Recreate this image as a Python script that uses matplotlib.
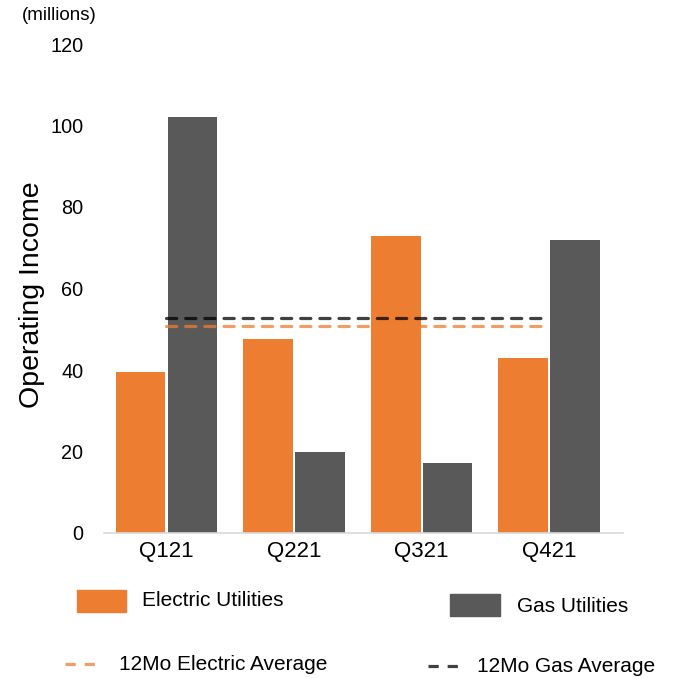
import numpy as np
import matplotlib.pyplot as plt
from matplotlib.patches import Rectangle
from matplotlib.lines import Line2D

plt.rcParams['font.family'] = ['Liberation Sans', 'DejaVu Sans']

quy = ['Q121', 'Q221', 'Q321', 'Q421']
dien = [39.4, 47.5, 72.9, 43.0]
khi = [102.1, 19.9, 17.2, 71.9]
tb_dien = 50.7
tb_khi = 52.8
yticks = [0, 20, 40, 60, 80, 100, 120]

cam = '#ED7D31'
xam = '#595959'

W, H = 677, 678
fig = plt.figure(figsize=(W/100, H/100), dpi=100)
def fx(px): return px / W
def fy(py): return 1 - py / H

ax = fig.add_axes([fx(104), fy(533), fx(623) - fx(104), fy(44) - fy(533)])
x = np.arange(len(quy))
rong = 0.39
ax.bar(x - 0.203, dien, rong, color=cam, zorder=2)
ax.bar(x + 0.203, khi, rong, color=xam, zorder=2)

# duong trung binh 12 thang
ax.plot([0, 3], [tb_khi, tb_khi], color='black', alpha=0.75, lw=2.3,
        dashes=(3.2, 2.8), dash_capstyle='round', zorder=3)
ax.plot([0, 3], [tb_dien, tb_dien], color=cam, alpha=0.75, lw=2.3,
        dashes=(3.2, 2.8), dash_capstyle='round', zorder=3)

ax.set_xlim(-0.49, 3.58)
ax.set_ylim(0, 120)
ax.set_yticks(yticks)
ax.set_xticks(x)
ax.set_xticklabels(quy)
ax.tick_params(axis='y', length=0, pad=15, labelsize=14.3)
ax.tick_params(axis='x', length=0, pad=6, labelsize=16)
for s in ['left', 'right', 'top']:
    ax.spines[s].set_visible(False)
ax.spines['bottom'].set_color('#D9D9D9')
ax.spines['bottom'].set_linewidth(1.2)

fig.text(fx(32), fy(295), 'Operating Income', rotation=90, fontsize=20.5,
         ha='center', va='center')
fig.text(fx(59), fy(15), '(millions)', fontsize=13.5, ha='center', va='center')

# chu thich
fig.add_artist(Rectangle((fx(77), fy(612)), fx(126) - fx(77), fy(590) - fy(612),
                         color=cam, transform=fig.transFigure))
fig.text(fx(142), fy(601), 'Electric Utilities', fontsize=15, va='center')
fig.add_artist(Rectangle((fx(450), fy(616)), fx(500) - fx(450), fy(594) - fy(616),
                         color=xam, transform=fig.transFigure))
fig.text(fx(517), fy(606), 'Gas Utilities', fontsize=15, va='center')

fig.add_artist(Line2D([fx(65), fx(98)], [fy(664), fy(664)], color=cam, alpha=0.75,
                      lw=2.3, dashes=(3.2, 2.8), transform=fig.transFigure))
fig.text(fx(119), fy(664), '12Mo Electric Average', fontsize=15, va='center')
fig.add_artist(Line2D([fx(428), fx(460)], [fy(666), fy(666)], color='black', alpha=0.75,
                      lw=2.3, dashes=(3.2, 2.8), transform=fig.transFigure))
fig.text(fx(477), fy(667), '12Mo Gas Average', fontsize=15, va='center')

fig.savefig('out.png', dpi=100)
